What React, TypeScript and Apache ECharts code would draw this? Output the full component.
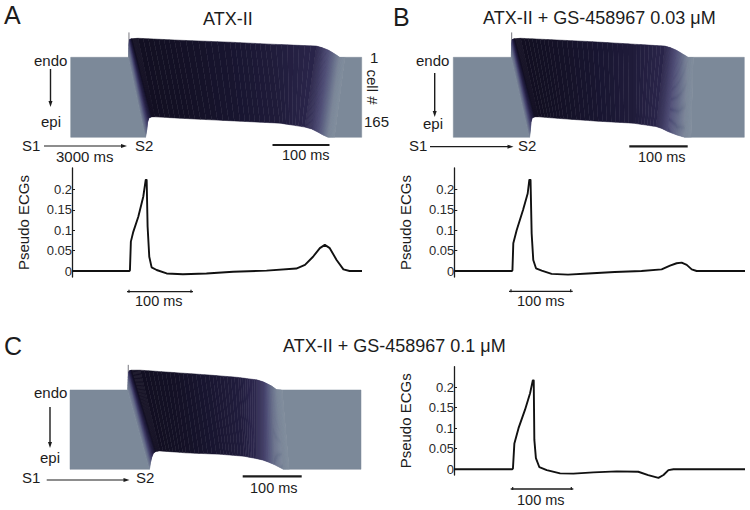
import React, { useEffect, useRef } from "react";
import * as echarts from "echarts";

// ---------- Pseudo ECG traces: [ms, value] ----------
const ecgA: number[][] = [[0,0],[92.7,0],[93.5,0.002],[95,0.072],[98.9,0.096],[107,0.133],[115,0.182],[118.9,0.223],[120.5,0.223],[122,0.109],[124.7,0.035],[128.5,0.009],[136.6,0.0025],[152.7,-0.006],[179,-0.008],[217,-0.006],[260,-0.002],[314,0.001],[362,0.006],[376,0.015],[389,0.035],[400,0.056],[408,0.064],[416,0.056],[427,0.027],[438,0.004],[448,0],[468,0]];
const ecgB: number[][] = [[0,0],[93,0],[93.8,0.002],[95.2,0.068],[100.6,0.1],[111,0.15],[118.4,0.19],[121,0.223],[123,0.223],[124.8,0.092],[127.4,0.027],[131.8,0.0066],[141,0.001],[157,-0.007],[183.5,-0.009],[216,-0.006],[258.7,-0.0025],[302,0],[334.5,0.004],[348,0.013],[358.7,0.019],[366.8,0.0205],[375,0.015],[383,0.004],[391,0],[469,0]];
const ecgC: number[][] = [[0,0],[94,0],[95,0.002],[97.3,0.063],[104,0.1],[114.5,0.145],[122.6,0.185],[127,0.216],[128.5,0.216],[129.5,0.0715],[132,0.027],[137.6,0.005],[149.5,-0.002],[171,-0.01],[192.4,-0.0105],[224.7,-0.0075],[262.4,-0.005],[297,-0.006],[313,-0.014],[329.5,-0.021],[337.6,-0.014],[345.6,-0.002],[353.7,0],[469,0]];
const ecgTicks = [0, 0.05, 0.1, 0.15, 0.2];

// ---------- Voltage map isochrones, top edge and bottom edge (ms, cell row, mV) ----------
const topTimeA = [0,99.7,100.5,101.4,103.1,105.7,116,188,275,344,424,433,444,454,464,473,502];
const topRowA = [1,1,-24,-34.5,-36.5,-37,-38,-34,-30,-26,-22,-19,-14,-7,1,1,1];
const botTimeA = [0,129,131.2,132.6,135,140,145,214,292,361,404,416,426,435,444,455,502];
const botRowA = [165,165,150,134,125,123,123,127.5,132,136,144,148,154,160,165,165,165];
const voltageA = [-85,-85,-60,-30,0,22,22,20,15,8,-5,-20,-40,-60,-80,-85,-85];

const topTimeB = [0,100,100.7,101.6,103.3,106,116,170,240,310,365,374,384,394,405,414,502];
const topRowB = [1,1,-24,-34.5,-36.5,-37,-38,-35,-31,-26,-22,-19,-14,-7,1,1,1];
const botTimeB = [0,131.5,133,134,136,141,147,190,250,310,350,360,370,385,399,410,502];
const botRowB = [165,165,150,134,125,123,123,127,132,136,143,147,153,160,165,165,165];
const voltageB = [-85,-85,-60,-30,0,22,22,20,15,8,-5,-20,-40,-60,-80,-85,-85];

const topTimeC = [0,99.5,100.5,101.5,103,106,121,180,240,290,322,333,340,348,356,366,502];
const topRowC = [1,1,-25,-36,-39,-40,-40,-35,-30,-25,-20,-16,-12,-7,0,1,1];
const botTimeC = [0,137,139,141,143.6,148,155,200,260,300,322,333,342,352,368,378,502];
const botRowC = [165,165,150,140,132,128,127,131,134,138,143,146,150,155,165,165,165];
const voltageC = [-85,-85,-60,-30,0,22,22,20,14,6,-10,-25,-45,-65,-80,-85,-85];

const spikeA = [[100.5, 1], [100.5, -50]];
const spikeB = [[100.7, 1], [100.7, -50]];
const spikeC = [[100.5, 1], [100.5, -51]];

const colorStops: [number, number[]][] = [
  [-85, [124, 137, 153]],
  [-60, [92, 98, 130]],
  [-40, [72, 70, 112]],
  [-20, [54, 50, 90]],
  [-5, [42, 37, 74]],
  [8, [31, 27, 58]],
  [15, [24, 21, 48]],
  [22, [18, 15, 34]],
];
function voltageColor(v: number) {
  for (let i = 0; i < colorStops.length - 1; i++) {
    const [a, ca] = colorStops[i];
    const [b, cb] = colorStops[i + 1];
    if (v <= b) {
      const k = Math.max(0, (v - a) / (b - a));
      return `rgb(${ca.map((c, j) => Math.round(c + (cb[j] - c) * k)).join(",")})`;
    }
  }
  return "rgb(18,15,34)";
}

const FONT = "'Liberation Sans', Arial, sans-serif";
const INK = "#1c1c1c";

type Label = [string, number, number, number];
const labels: Label[] = [
  ["A", 4, 24, 25], ["B", 393, 26, 25], ["C", 4, 355, 25],
  ["ATX-II", 203, 25, 18], ["ATX-II + GS-458967 0.03 μM", 483, 24, 18], ["ATX-II + GS-458967 0.1 μM", 283, 352, 18],
  ["endo", 34, 66, 15], ["epi", 41, 127, 15], ["S1", 22, 151, 15], ["S2", 135, 151, 15], ["3000 ms", 56, 162, 15], ["100 ms", 282, 160, 14.5],
  ["1", 370, 63, 15], ["165", 364, 127, 15],
  ["endo", 416, 66, 15], ["epi", 423, 129, 15], ["S1", 409, 151, 15], ["S2", 518, 151, 15], ["100 ms", 638, 162, 14.5],
  ["endo", 34, 398, 15], ["epi", 40, 463, 15], ["S1", 22, 483, 15], ["S2", 136, 483, 15], ["100 ms", 250, 493, 14.5],
  ["100 ms", 135, 306, 14.5], ["100 ms", 517, 306, 14.5], ["100 ms", 517, 505, 14.5],
];

const textEl = ([text, x, base, size]: Label) => ({
  type: "text", silent: true,
  style: { text, x, y: base - size * 0.36, fontSize: size, fontFamily: FONT, fill: INK, align: "left", verticalAlign: "middle" },
});
const lineEl = (x1: number, y1: number, x2: number, y2: number, w = 1.2) => ({
  type: "line", silent: true, shape: { x1, y1, x2, y2 }, style: { stroke: INK, lineWidth: w },
});
const arrowRight = (x1: number, x2: number, y: number) => [
  lineEl(x1, y, x2 - 4, y),
  { type: "polygon", silent: true, shape: { points: [[x2, y], [x2 - 6, y - 2], [x2 - 6, y + 2]] }, style: { fill: INK } },
];
const arrowDown = (x: number, y1: number, y2: number) => [
  lineEl(x, y1, x, y2 - 4, 1.4),
  { type: "polygon", silent: true, shape: { points: [[x, y2], [x - 2, y2 - 6], [x + 2, y2 - 6]] }, style: { fill: INK } },
];
const bracket = (x1: number, x2: number, y: number) => [
  lineEl(x1 - 1, y, x2 + 1, y, 1.3),
  lineEl(x1 + 1, y - 2, x1 + 1, y + 1, 1.2),
  lineEl(x2 - 1, y - 2, x2 - 1, y + 1, 1.2),
];

function heatSeries(i: number, top: number[], topR: number[], bot: number[], botR: number[], volt: number[], spike: number[][]) {
  const rows = top.slice(0, -1).map((t, k) => [t, topR[k], bot[k], botR[k], volt[k], top[k + 1], topR[k + 1], bot[k + 1], botR[k + 1], volt[k + 1]]);
  const STEPS = 8;
  return [
    {
      type: "custom", xAxisIndex: i, yAxisIndex: i, silent: true, clip: false,
      encode: { x: 0, y: 1 }, data: rows,
      renderItem: (_p: any, api: any) => {
        const d = Array.from({ length: 10 }, (_, n) => api.value(n) as number);
        const children: any[] = [];
        const flat = d[4] === d[9];
        const steps = flat && Math.abs(d[4]) > 80 ? 1 : STEPS;
        const pt = (k: number, offs: number) => {
          const tv = d[offs] + (d[offs + 5] - d[offs]) * k;
          const rv = d[offs + 1] + (d[offs + 6] - d[offs + 1]) * k;
          return api.coord([tv, rv]);
        };
        for (let s = 0; s < steps; s++) {
          const a = s / steps, b = (s + 1) / steps;
          const col = voltageColor(d[4] + (d[9] - d[4]) * (a + b) / 2);
          children.push({
            type: "polygon",
            shape: { points: [pt(a, 0), pt(b, 0), pt(b, 2), pt(a, 2)] },
            style: { fill: col, stroke: col, lineWidth: 0.5 },
          });
        }
        return { type: "group", children };
      },
    },
    {
      type: "line", xAxisIndex: i, yAxisIndex: i, data: spike, symbol: "none", silent: true, clip: false,
      lineStyle: { color: "#77777f", width: 1 }, z: 1,
    },
  ];
}

const ecgSeries = (i: number, data: number[][]) => ({
  type: "line", xAxisIndex: i, yAxisIndex: i, data, symbol: "none", silent: true, clip: false,
  lineStyle: { color: "#111", width: 1.9, join: "round" },
});

const ecgY = (min: number, max: number) => ({
  type: "value", min, max, scale: false,
  name: "Pseudo ECGs", nameLocation: "middle", nameGap: 41, nameRotate: 90,
  nameTextStyle: { fontSize: 15, fontFamily: FONT, color: INK },
  axisLine: { show: true, onZero: false, lineStyle: { color: INK, width: 1.3 } },
  axisTick: { show: true, inside: true, length: 3, customValues: ecgTicks, lineStyle: { color: INK } },
  axisLabel: { show: true, margin: 0, customValues: ecgTicks, fontSize: 13, fontFamily: FONT, color: "#2a2a2a", formatter: (v: number) => String(v), showMinLabel: true, showMaxLabel: true },
  splitLine: { show: false },
});
const hiddenX = (max: number) => ({ type: "value", min: 0, max, show: false, splitLine: { show: false } });
const heatY = { type: "value", min: -60, max: 170, inverse: true, show: false, splitLine: { show: false } };

export default function App() {
  const ref = useRef<HTMLDivElement>(null);
  useEffect(() => {
    document.body.style.margin = "0";
    const chart = echarts.init(ref.current!, null, { renderer: "svg" });
    chart.setOption({
      animation: false,
      backgroundColor: "#fff",
      grid: [
        { left: 70.7, width: 291, top: 27.55, height: 112.2 },
        { left: 453.3, width: 291, top: 27.55, height: 112.2 },
        { left: 70, width: 291, top: 360.5, height: 111.2 },
        { left: 72, width: 290, top: 168, height: 109 },
        { left: 454.3, width: 290.7, top: 168, height: 109 },
        { left: 454, width: 291, top: 366.7, height: 108.3 },
      ],
      xAxis: [
        { gridIndex: 0, ...hiddenX(502) }, { gridIndex: 1, ...hiddenX(502) }, { gridIndex: 2, ...hiddenX(502) },
        { gridIndex: 3, ...hiddenX(468) }, { gridIndex: 4, ...hiddenX(469) }, { gridIndex: 5, ...hiddenX(469) },
      ],
      yAxis: [
        { gridIndex: 0, ...heatY }, { gridIndex: 1, ...heatY }, { gridIndex: 2, ...heatY },
        { gridIndex: 3, ...ecgY(-0.0147, 0.2525) }, { gridIndex: 4, ...ecgY(-0.0147, 0.2525) }, { gridIndex: 5, ...ecgY(-0.0139, 0.2495) },
      ],
      series: [
        ...heatSeries(0, topTimeA, topRowA, botTimeA, botRowA, voltageA, spikeA),
        ...heatSeries(1, topTimeB, topRowB, botTimeB, botRowB, voltageB, spikeB),
        ...heatSeries(2, topTimeC, topRowC, botTimeC, botRowC, voltageC, spikeC),
        ecgSeries(3, ecgA), ecgSeries(4, ecgB), ecgSeries(5, ecgC),
      ],
      graphic: {
        elements: [
          ...labels.map(textEl),
          {
            type: "text", silent: true, x: 372, y: 87, rotation: -Math.PI / 2,
            style: { text: "cell #", x: 0, y: 0, fontSize: 15, fontFamily: FONT, fill: INK, align: "center", verticalAlign: "middle" },
          },
          ...arrowDown(50.5, 69, 107), ...arrowDown(434.7, 73, 117), ...arrowDown(50, 407, 448),
          ...arrowRight(44, 127, 146), ...arrowRight(430, 513.5, 146.7), ...arrowRight(46.7, 129.5, 480),
          lineEl(272.5, 145, 329.5, 145, 2.2), lineEl(629.3, 146.3, 687.7, 146.3, 2.2), lineEl(242.7, 476.3, 301.7, 476.3, 2.2),
          ...bracket(128, 192, 291.7), ...bracket(510, 571.7, 291.3), ...bracket(511.7, 572.3, 489),
        ],
      },
    });
    return () => chart.dispose();
  }, []);
  return <div ref={ref} style={{ position: "absolute", left: 0, top: 0, width: 750, height: 510 }} />;
}
